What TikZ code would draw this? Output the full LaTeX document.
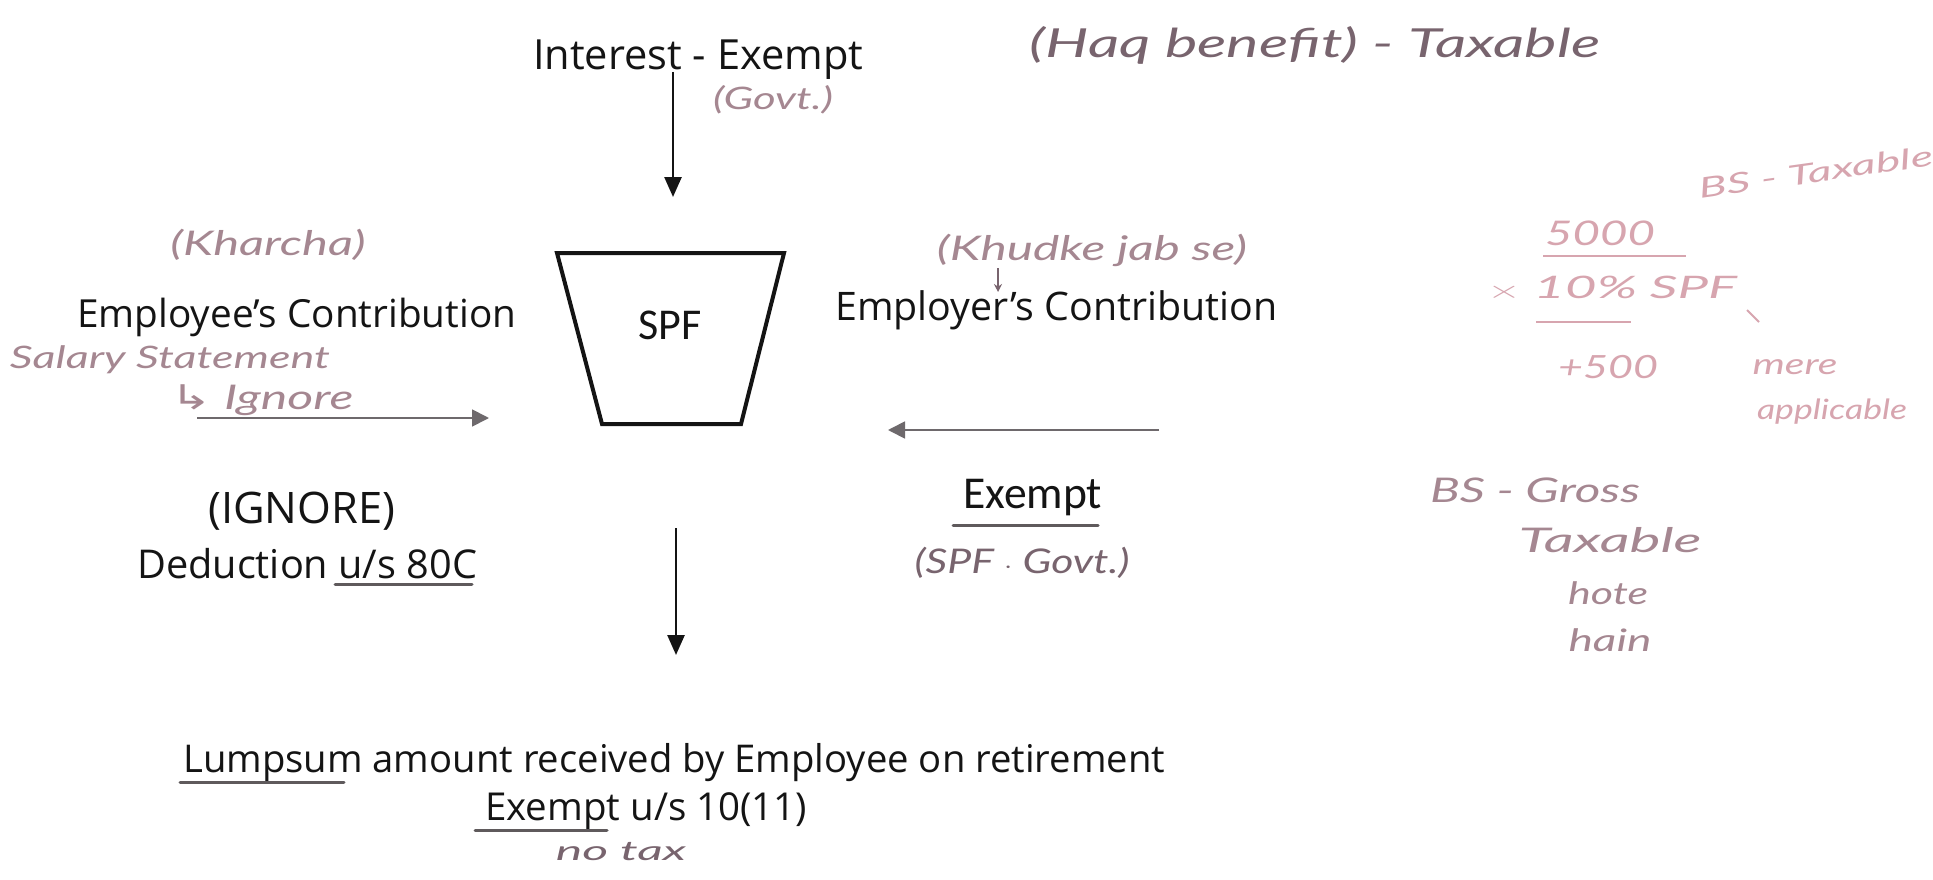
\documentclass[tikz,border=0pt]{standalone}
\usepackage{fontspec}
\setmainfont{Open Sans}
\newfontfamily\calib{Carlito}
\newfontfamily\hand{Lato}
\newfontfamily\symb{DejaVu Sans}
\usetikzlibrary{arrows.meta}
\definecolor{ink}{RGB}{20,20,20}
\definecolor{pencil}{RGB}{95,90,92}
\definecolor{handA}{RGB}{120,100,110}
\definecolor{handB}{RGB}{165,135,145}
\definecolor{handC}{RGB}{215,165,175}
\definecolor{linegray}{RGB}{110,105,108}
% fit a text to a given width (in pt), keeping its proportions
\newcommand\fitw[2]{\resizebox{#1pt}{!}{#2}}
% stretch a text to a given width (in pt), keeping its height
\newcommand\fitx[2]{\resizebox{#1pt}{\height}{#2}}
\tikzset{
  printed/.style={inner sep=0pt, anchor=base west, text=ink, font=\fontsize{40}{48}\selectfont},
  hw/.style={inner sep=0pt, anchor=center, text=handA, font=\hand\itshape\fontsize{30}{36}\selectfont},
  hsize/.style={font=\hand\itshape\fontsize{#1}{#1}\selectfont},
  arr/.style={-{Triangle[length=20pt,width=17pt]}, line width=2.6pt, draw=ink},
  harr/.style={-{Triangle[length=17pt,width=17pt]}, line width=1.8pt, draw=linegray},
  uline/.style={line width=3pt, draw=pencil, line cap=round},
}
\begin{document}
\begin{tikzpicture}[x=1pt,y=-1pt]
\useasboundingbox (0,0) rectangle (1933,880);
\fill[white] (0,0) rectangle (1933,880);

% printed labels
\node[printed] (interest) at (533,70) {\fitw{330}{Interest - Exempt}};
\node[printed] (employee) at (77,327) {\fitw{439}{Employee's Contribution}};
\node[printed] (employer) at (835,320) {\fitw{442}{Employer's Contribution}};
\node[printed] (ignore) at (208,523) {\fitw{187}{(IGNORE)}};
\node[printed] (deduction) at (137,578) {\fitw{340}{Deduction u/s 80C}};
\node[printed, font=\calib\fontsize{40}{48}\selectfont] (exemptR) at (963,508) {\fitw{139}{Exempt}};
\node[printed] (lumpsum) at (183,772) {\fitw{982}{Lumpsum amount received by Employee on retirement}};
\node[printed] (exemptB) at (485,820) {\fitw{322}{Exempt u/s 10(11)}};

% the fund
\draw[line width=4pt, draw=ink, line join=miter] (557,253) -- (784,253) -- (741,424) -- (602,424) -- cycle;
\node[inner sep=0pt, text=ink, font=\calib\fontsize{44}{50}\selectfont] (spf) at (670,325) {SPF};

% flows
\coordinate (inA) at (673,72);
\coordinate (inB) at (673,197);
\draw[arr] (inA) -- (inB);
\coordinate (outA) at (676,528);
\coordinate (outB) at (676,655);
\draw[arr] (outA) -- (outB);
\coordinate (eeA) at (197,418);
\coordinate (eeB) at (489,418);
\draw[harr] (eeA) -- (eeB);
\coordinate (erA) at (1159,430);
\coordinate (erB) at (888,430);
\draw[harr] (erA) -- (erB);

% pencil underlines
\draw[uline] (335,584) -- (472,584);
\draw[uline] (953,525) -- (1098,525);
\draw[uline] (180,782) -- (344,782);
\draw[uline] (475,830) -- (607,830);

% handwritten notes
\node[hw, text=handB, hsize=31] (govt) at (773,100) {\fitx{120}{(Govt.)}};
\node[hw, hsize=40] (haq) at (1315,45) {\fitx{570}{(Haq benefit) - Taxable}};
\node[hw, text=handB, hsize=34] (kharcha) at (268,245) {\fitx{195}{(Kharcha)}};
\node[hw, text=handB, hsize=31] (salary) at (170,360) {\fitx{320}{Salary Statement}};
\node[hw, text=handB, hsize=34] (ign) at (262,400) {\fitx{183}{{\symb\upshape ↳} Ignore}};
\node[hw, text=handB, hsize=34] (khud) at (1092,250) {\fitx{310}{(Khudke jab se)}};
\coordinate (kA) at (998,268);
\coordinate (kB) at (998,292);
\draw[-{Stealth[length=8pt,width=8pt]}, line width=1.5pt, draw=handA] (kA) -- (kB);
\node[hw, hsize=34] (spfgovt) at (1022,563) {\fitx{215}{(SPF $\cdot$ Govt.)}};
\node[hw, hsize=27] (notax) at (621,852) {\fitx{130}{no tax}};

% side working
\node[hw, text=handC, hsize=28, rotate=8] (bstax) at (1816,172) {\fitx{236}{BS - Taxable}};
\node[hw, text=handC, hsize=34] (five) at (1600,233) {\fitx{110}{5000}};
\draw[line width=2pt, draw=handC] (1543,256) -- (1686,256);
\node[hw, text=handC, hsize=31] (pct) at (1612,288) {\fitx{250}{$\times$ 10\% SPF}};
\draw[line width=2pt, draw=handC] (1536,322) -- (1631,322);
\draw[line width=2pt, draw=handC] (1747,310) -- (1759,322);
\node[hw, text=handC, hsize=32] (fivehund) at (1608,367) {\fitx{100}{+500}};
\node[hw, text=handC, hsize=29] (mere) at (1795,367) {\fitx{85}{mere}};
\node[hw, text=handC, hsize=28] (appl) at (1832,412) {\fitx{150}{applicable}};
\node[hw, text=handB, hsize=34] (bsg) at (1535,490) {\fitx{210}{BS - Gross}};
\node[hw, text=handB, hsize=34] (taxable) at (1610,540) {\fitx{183}{Taxable}};
\node[hw, text=handB, hsize=31] (hote) at (1608,593) {\fitx{80}{hote}};
\node[hw, text=handB, hsize=31] (hain) at (1610,640) {\fitx{83}{hain}};
\end{tikzpicture}
\end{document}
